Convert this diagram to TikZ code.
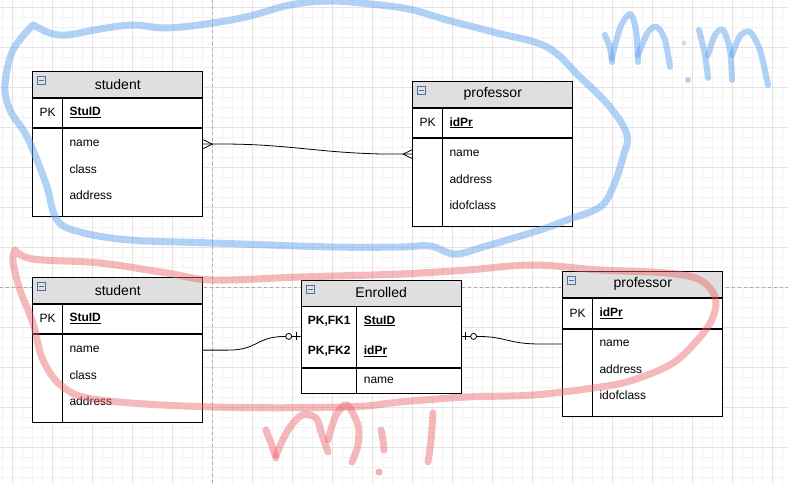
\documentclass[tikz,border=0pt]{standalone}
\usepackage{fontspec}
\setmainfont{Liberation Sans}
\usepackage{xcolor}
\usepackage{tikz}
\usetikzlibrary{positioning,calc}

\definecolor{hdrgray}{RGB}{223,223,223}
\definecolor{gridminor}{RGB}{243,243,243}
\definecolor{gridmajor}{RGB}{228,228,228}
\definecolor{guidegray}{RGB}{170,170,170}
\definecolor{iconblue}{RGB}{90,110,140}
\definecolor{iconfill}{RGB}{215,225,240}
\definecolor{inkblue}{RGB}{100,165,240}
\definecolor{inkred}{RGB}{235,100,105}

\begin{document}
\begin{tikzpicture}[
  x=1pt, y=-1pt,
  hdr/.style={draw, line width=0.9pt, fill=hdrgray, anchor=north west, minimum height=26, inner sep=0, font=\fontsize{14}{16}\selectfont},
  keyrow/.style={draw, line width=0.9pt, fill=white, anchor=north west, inner sep=0},
  bodyrow/.style={draw, line width=0.9pt, fill=white, anchor=north west, inner sep=0},
  txt/.style={anchor=west, inner sep=0, font=\fontsize{12}{14}\selectfont},
  divider/.style={line width=0.9pt},
  conn/.style={line width=0.8pt},
  marker/.style={line width=0.8pt, fill=white},
  icon/.style={draw=iconblue, fill=iconfill, line width=0.6pt, minimum size=8, inner sep=0, anchor=north west},
  guide/.style={draw=guidegray, line width=0.6pt, dash pattern=on 3pt off 3pt},
  blueink/.style={draw=inkblue, line width=7pt, line cap=round, line join=round, opacity=0.5},
  redink/.style={draw=inkred, line width=7pt, line cap=round, line join=round, opacity=0.45}
]
  \useasboundingbox (0,0) rectangle (788,484);
  \fill[white] (0,0) rectangle (788,484);

  % grid
  \foreach \gx in {2,12,...,782} \draw[gridminor, line width=0.6pt] (\gx,0) -- (\gx,484);
  \foreach \gy in {7,17,...,477} \draw[gridminor, line width=0.6pt] (0,\gy) -- (788,\gy);
  \foreach \gx in {12,52,...,772} \draw[gridmajor, line width=0.6pt] (\gx,0) -- (\gx,484);
  \foreach \gy in {7,47,...,447} \draw[gridmajor, line width=0.6pt] (0,\gy) -- (788,\gy);
  \draw[guide] (212,0) -- (212,484);
  \draw[guide] (0,287) -- (788,287);

  % upper student
  \node[hdr, minimum width=170] at (32.3,70.7) (stuA) {student};
  \node[keyrow, minimum width=170, minimum height=29.6] at (stuA.south west) (stuAKey) {};
  \node[bodyrow, minimum width=170, minimum height=87.7] at (stuAKey.south west) (stuABody) {};
  \draw[divider] ([xshift=30pt]stuAKey.north west) -- ([xshift=30pt]stuABody.south west);
  \node[icon] at ([xshift=5pt,yshift=-5.5pt]stuA.north west) (stuAIcon) {};
  \draw[iconblue, line width=0.8pt] ([xshift=1.8pt]stuAIcon.west) -- ([xshift=-1.8pt]stuAIcon.east);
  \node[txt] at ([xshift=7pt]stuAKey.west) {PK};
  \node[txt] at ([xshift=37pt]stuAKey.west) {\underline{\textbf{StuID}}};
  \node[txt] at ([xshift=37pt,yshift=-15pt]stuABody.north west) {name};
  \node[txt] at ([xshift=37pt,yshift=-41pt]stuABody.north west) {class};
  \node[txt] at ([xshift=37pt,yshift=-67pt]stuABody.north west) {address};

  % upper professor
  \node[hdr, minimum width=160] at (412.3,80.7) (profA) {professor};
  \node[keyrow, minimum width=160, minimum height=29.6] at (profA.south west) (profAKey) {};
  \node[bodyrow, minimum width=160, minimum height=87.7] at (profAKey.south west) (profABody) {};
  \draw[divider] ([xshift=30pt]profAKey.north west) -- ([xshift=30pt]profABody.south west);
  \node[icon] at ([xshift=5pt,yshift=-5.5pt]profA.north west) (profAIcon) {};
  \draw[iconblue, line width=0.8pt] ([xshift=1.8pt]profAIcon.west) -- ([xshift=-1.8pt]profAIcon.east);
  \node[txt] at ([xshift=7pt]profAKey.west) {PK};
  \node[txt] at ([xshift=37pt]profAKey.west) {\underline{\textbf{idPr}}};
  \node[txt] at ([xshift=37pt,yshift=-15pt]profABody.north west) {name};
  \node[txt] at ([xshift=37pt,yshift=-41pt]profABody.north west) {address};
  \node[txt] at ([xshift=37pt,yshift=-67pt]profABody.north west) {idofclass};

  % lower student
  \node[hdr, minimum width=170] at (32.3,276.7) (stuB) {student};
  \node[keyrow, minimum width=170, minimum height=29.6] at (stuB.south west) (stuBKey) {};
  \node[bodyrow, minimum width=170, minimum height=88] at (stuBKey.south west) (stuBBody) {};
  \draw[divider] ([xshift=30pt]stuBKey.north west) -- ([xshift=30pt]stuBBody.south west);
  \node[icon] at ([xshift=5pt,yshift=-5.5pt]stuB.north west) (stuBIcon) {};
  \draw[iconblue, line width=0.8pt] ([xshift=1.8pt]stuBIcon.west) -- ([xshift=-1.8pt]stuBIcon.east);
  \node[txt] at ([xshift=7pt]stuBKey.west) {PK};
  \node[txt] at ([xshift=37pt]stuBKey.west) {\underline{\textbf{StuID}}};
  \node[txt] at ([xshift=37pt,yshift=-15pt]stuBBody.north west) {name};
  \node[txt] at ([xshift=37pt,yshift=-41pt]stuBBody.north west) {class};
  \node[txt] at ([xshift=37pt,yshift=-67pt]stuBBody.north west) {address};

  % enrolled
  \node[hdr, minimum width=160] at (300.7,279.5) (enr) {Enrolled};
  \node[keyrow, minimum width=160, minimum height=60.2] at (enr.south west) (enrKey) {};
  \node[bodyrow, minimum width=160, minimum height=25] at (enrKey.south west) (enrBody) {};
  \draw[divider] ([xshift=56pt]enrKey.north west) -- ([xshift=56pt]enrBody.south west);
  \node[icon] at ([xshift=5pt,yshift=-5.5pt]enr.north west) (enrIcon) {};
  \draw[iconblue, line width=0.8pt] ([xshift=1.8pt]enrIcon.west) -- ([xshift=-1.8pt]enrIcon.east);
  \node[txt] at ([xshift=7pt,yshift=-14.5pt]enrKey.north west) {\textbf{PK,FK1}};
  \node[txt] at ([xshift=7pt,yshift=-44.5pt]enrKey.north west) {\textbf{PK,FK2}};
  \node[txt] at ([xshift=63pt,yshift=-14.5pt]enrKey.north west) {\underline{\textbf{StuID}}};
  \node[txt] at ([xshift=63pt,yshift=-44.5pt]enrKey.north west) {\underline{\textbf{idPr}}};
  \node[txt] at ([xshift=63pt]enrBody.west) {name};

  % lower professor
  \node[hdr, minimum width=160] at (562.3,270.7) (profB) {professor};
  \node[keyrow, minimum width=160, minimum height=30] at (profB.south west) (profBKey) {};
  \node[bodyrow, minimum width=160, minimum height=87.3] at (profBKey.south west) (profBBody) {};
  \draw[divider] ([xshift=30pt]profBKey.north west) -- ([xshift=30pt]profBBody.south west);
  \node[icon] at ([xshift=5pt,yshift=-5.5pt]profB.north west) (profBIcon) {};
  \draw[iconblue, line width=0.8pt] ([xshift=1.8pt]profBIcon.west) -- ([xshift=-1.8pt]profBIcon.east);
  \node[txt] at ([xshift=7pt]profBKey.west) {PK};
  \node[txt] at ([xshift=37pt]profBKey.west) {\underline{\textbf{idPr}}};
  \node[txt] at ([xshift=37pt,yshift=-15pt]profBBody.north west) {name};
  \node[txt] at ([xshift=37pt,yshift=-41pt]profBBody.north west) {address};
  \node[txt] at ([xshift=37pt,yshift=-67pt]profBBody.north west) {idofclass};

  % many-to-many (upper)
  \coordinate (cA1) at ([yshift=-16pt]stuABody.north east);
  \coordinate (cA2) at ([yshift=-16pt]profABody.north west);
  \draw[conn] (cA1) -- ($(cA1)+(30,0)$) .. controls ($(cA1)+(90,1)$) and ($(cA2)+(-90,-1)$) .. ($(cA2)+(-25,0)$) -- (cA2);
  \draw[conn] ($(cA1)+(0,-4.5)$) -- ($(cA1)+(9,0)$) -- ($(cA1)+(0,4.5)$);
  \draw[conn] ($(cA2)+(0,-4.5)$) -- ($(cA2)+(-9,0)$) -- ($(cA2)+(0,4.5)$);

  % student -- enrolled
  \coordinate (cB1) at ([yshift=-16pt]stuBBody.north east);
  \coordinate (cB2) at ([yshift=-30pt]enrKey.north west);
  \draw[conn] (cB1) -- ($(cB1)+(25,0)$) .. controls ($(cB1)+(55,0)$) and ($(cB2)+(-45,0)$) .. ($(cB2)+(-15,0)$) -- (cB2);
  \draw[conn] ($(cB2)+(-4,-4)$) -- ($(cB2)+(-4,4)$);
  \draw[marker] ($(cB2)+(-12,0)$) circle (3);

  % enrolled -- professor
  \coordinate (cC1) at ([yshift=-30pt]enrKey.north east);
  \coordinate (cC2) at ([yshift=-15.5pt]profBBody.north west);
  \draw[conn] (cC1) -- ($(cC1)+(15,0)$) .. controls ($(cC1)+(45,0)$) and ($(cC2)+(-55,0)$) .. ($(cC2)+(-22,0)$) -- (cC2);
  \draw[conn] ($(cC1)+(4,-4)$) -- ($(cC1)+(4,4)$);
  \draw[marker] ($(cC1)+(12,0)$) circle (3);

  % blue marker loop and m:m
  \draw[blueink] plot[smooth, tension=0.6] coordinates {(33,25) (50,33) (67,35) (100,29) (133,25) (167,28) (213,23) (250,16) (290,5) (330,1) (380,5) (413,10) (447,20) (497,33) (547,47) (580,77) (610,107) (627,135) (623,157) (613,187) (600,207) (567,220) (540,230) (483,247) (455,254) (430,246) (400,247) (333,247) (213,243) (130,240) (80,232) (57,220) (47,187) (35,155) (25,133) (10,110) (5,85) (13,50) (33,25)};
  \draw[blueink, line width=6pt] plot[smooth] coordinates {(605,35) (610,48) (612,62)};
  \draw[blueink, line width=6pt] plot[smooth] coordinates {(612,58) (620,28) (630,14) (636,30) (638,62)};
  \draw[blueink, line width=6pt] plot[smooth] coordinates {(638,55) (648,32) (657,27) (665,40) (670,67)};
  \fill[inkblue, opacity=0.35] (684,43) circle (2.5);
  \fill[inkblue, opacity=0.5] (688,80) circle (3);
  \draw[blueink, line width=6pt] plot[smooth] coordinates {(699,30) (705,55) (708,78)};
  \draw[blueink, line width=6pt] plot[smooth] coordinates {(708,55) (715,35) (723,30) (730,50) (732,80)};
  \draw[blueink, line width=6pt] plot[smooth] coordinates {(732,55) (740,36) (750,32) (760,50) (768,85)};

  % red marker loop and m:1
  \draw[redink] plot[smooth, tension=0.6] coordinates {(15,250) (33,259) (100,263) (167,273) (213,280) (300,277) (400,274) (467,270) (533,265) (600,270) (667,273) (700,280) (715,297) (713,317) (700,337) (673,363) (633,380) (600,387) (533,395) (467,397) (400,402) (347,407) (213,407) (100,400) (63,387) (43,360) (33,323) (20,290) (13,262) (15,250)};
  \draw[redink] plot[smooth] coordinates {(266,430) (272,446) (276,458)};
  \draw[redink] plot[smooth] coordinates {(276,455) (288,430) (302,415) (316,418) (322,435) (328,452)};
  \draw[redink] plot[smooth] coordinates {(328,440) (336,415) (347,405) (358,425) (358,445) (352,462)};
  \draw[redink] plot[smooth] coordinates {(381,430) (383,440) (384,450)};
  \fill[inkred, opacity=0.5] (379,472) circle (3.5);
  \draw[redink] plot[smooth] coordinates {(433,413) (431,440) (428,462)};
\end{tikzpicture}
\end{document}
